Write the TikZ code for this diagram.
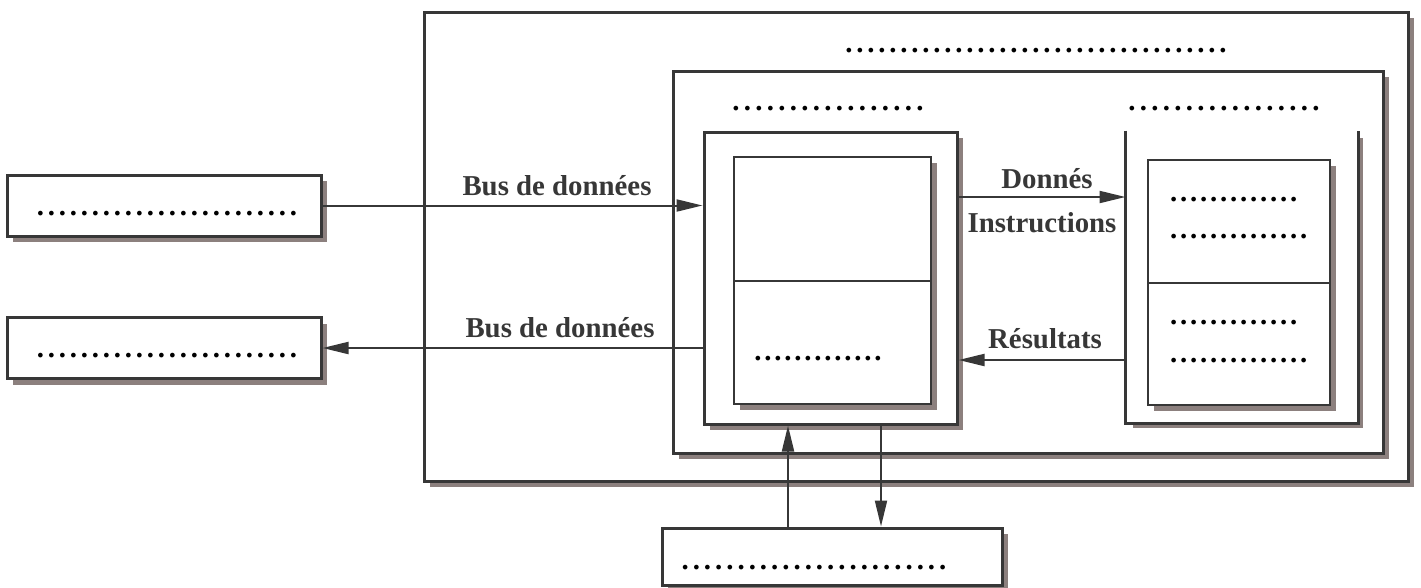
\documentclass[tikz,border=0pt]{standalone}
\usepackage{fontspec}
\setmainfont{Liberation Serif}
\usetikzlibrary{shadows,arrows.meta}
\definecolor{trait}{RGB}{55,55,55}
\definecolor{ombre}{RGB}{140,128,126}
\newcommand\pts[2][1.1mm]{\foreach \i in {1,...,#2}{\makebox[#1]{.}}}

\begin{document}
\begin{tikzpicture}[x=0.1mm, y=-0.1mm,
	boite/.style={draw=trait, line width=0.3mm, fill=white, inner sep=0pt},
	sboite/.style={boite, drop shadow={shadow xshift=0.6mm, shadow yshift=-0.6mm, fill=ombre, opacity=1}},
	case/.style={sboite, line width=0.2mm},
	fleche/.style={draw=trait, line width=0.2mm, -{Triangle[length=2.6mm, width=1.2mm]}},
	etiq/.style={font=\fontsize{8.2}{10}\selectfont\bfseries, text=trait, inner sep=0pt, anchor=base},
	pts/.style={font=\fontsize{8.2}{10}\selectfont\bfseries, inner sep=0pt, anchor=base}]
	\useasboundingbox (0,0) rectangle (1421,588);

	% ordinateur et processeur
	\node[sboite, minimum width=98.4mm, minimum height=46.9mm] (ordinateur) at (916,246.5) {};
	\node[pts] (t-ordi) at (1036,52) {\pts{35}};
	\node[sboite, minimum width=71mm, minimum height=38.2mm] (cpu) at (1028,262) {};
	\node[pts] (t-uc) at (828,110) {\pts[1.15mm]{17}};
	\node[pts] (t-ual) at (1224,110) {\pts[1.15mm]{17}};

	% unite de commande
	\node[sboite, minimum width=25.3mm, minimum height=29.2mm] (uc) at (830.5,278) {};
	\node[case, minimum width=19.7mm, minimum height=12.4mm] (uc-haut) at (832.5,219) {};
	\node[case, minimum width=19.7mm, minimum height=12.3mm] (uc-bas) at (832.5,342.5) {};
	\node[pts] (t-reg) at (818,360) {\pts[1mm]{13}};

	% UAL (ouverte en haut)
	\node[sboite, draw=none, minimum width=23mm, minimum height=29mm] (ual) at (1242,277) {};
	\draw[trait, line width=0.3mm] (ual.north west) -- (ual.south west) -- (ual.south east) -- (ual.north east);
	\node[case, minimum width=18.2mm, minimum height=12.3mm] (ual-haut) at (1239,221.5) {};
	\node[case, minimum width=18.2mm, minimum height=12.2mm] (ual-bas) at (1239,344) {};
	\foreach \y/\n in {201/13, 238/14, 324/13, 362/14}
		\node[pts, anchor=base west] (t-ual\y) at (1168,\y) {\pts[1mm]{\n}};

	% peripheriques
	\node[sboite, minimum width=31.4mm, minimum height=6.1mm] (entree) at (164,205.5) {};
	\node[pts] (t-entree) at (167,215) {\pts{24}};
	\node[sboite, minimum width=31.4mm, minimum height=6.1mm] (sortie) at (164,348) {};
	\node[pts] (t-sortie) at (167,357) {\pts{24}};
	\node[sboite, minimum width=34mm, minimum height=5.7mm] (memoire) at (832,556.5) {};
	\node[pts] (t-memoire) at (814,569) {\pts[1.12mm]{24}};

	% liaisons
	\draw[fleche] (entree.east) -- (entree.east -| uc.west);
	\draw[fleche] (uc.west |- sortie.east) -- (sortie.east);
	\draw[fleche] ([yshift=8.1mm]uc.east) -- ([yshift=8.1mm]uc.east -| ual.west);
	\draw[fleche] ([yshift=-8.3mm]ual.west) -- ([yshift=-8.3mm]ual.west -| uc.east);
	\draw[fleche] ([xshift=-4.4mm]memoire.north) -- ([xshift=-4.4mm]memoire.north |- uc.south);
	\draw[fleche] ([xshift=4.9mm]memoire.north |- uc.south) -- ([xshift=4.9mm]memoire.north);

	\node[etiq] (l-bus1) at (557,195) {Bus de données};
	\node[etiq] (l-bus2) at (560,337) {Bus de données};
	\node[etiq] (l-donnes) at (1047,188) {Donnés};
	\node[etiq] (l-instr) at (1042,232) {Instructions};
	\node[etiq] (l-res) at (1045,348) {Résultats};
\end{tikzpicture}
\end{document}
